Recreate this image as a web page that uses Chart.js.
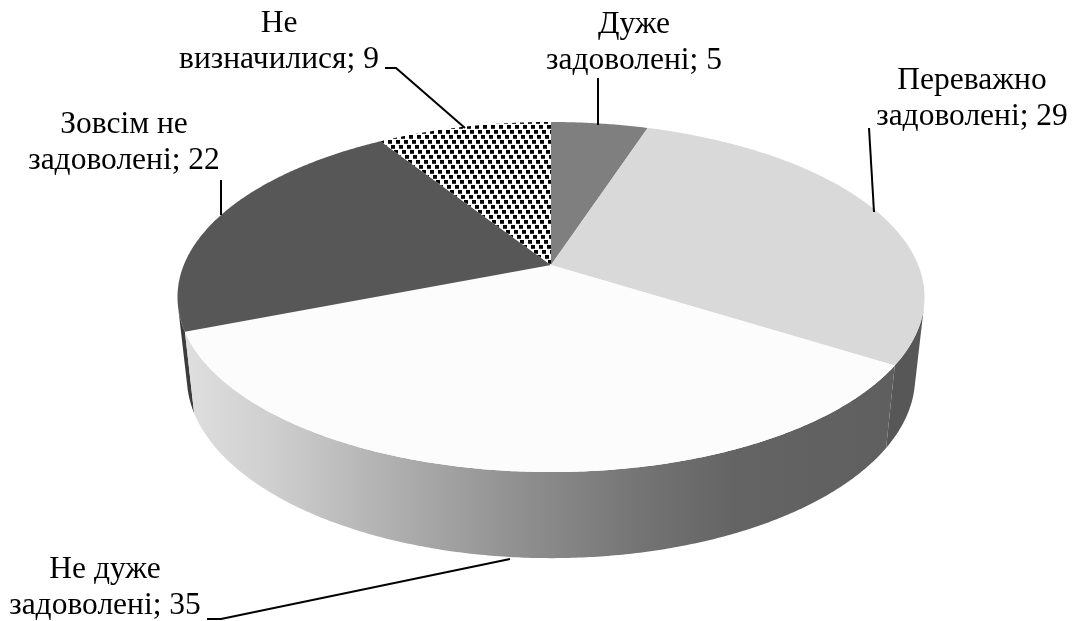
<!DOCTYPE html>
<html>
<head>
<meta charset="utf-8">
<title>Задоволеність</title>
<script src="https://cdn.jsdelivr.net/npm/chart.js@4/dist/chart.umd.min.js"></script>
<style>
  html, body { margin: 0; padding: 0; background: #fff; }
  #box { position: relative; width: 1073px; height: 621px; }
</style>
</head>
<body>
<div id="box"><canvas id="pieChart"></canvas></div>
<script>
'use strict';

// Chart data
const categories = [
    ['Дуже', 'задоволені'],
    ['Переважно', 'задоволені'],
    ['Не дуже', 'задоволені'],
    ['Зовсім не', 'задоволені'],
    ['Не', 'визначилися']
];
const satisfaction = [5, 29, 35, 22, 9];

// Label placement: centre x, first baseline y, leader polyline
const labelLayout = [
    { x: 634, y: 33, leader: [[598, 78], [598, 125]] },
    { x: 972, y: 89, leader: [[869, 128], [874, 212]] },
    { x: 105, y: 578, leader: [[207, 619], [221, 619], [510, 559]] },
    { x: 124, y: 133, leader: [[221, 180], [221, 215]] },
    { x: 279, y: 32, leader: [[385, 68], [396, 68], [465, 128]] }
];
const LINE_HEIGHT = 36;

// Projection of the disc: y is depth in the plane, k is the perspective
const K = -0.183;
const topFace = { a: 367.2, b: 120.7, c: 265 };
const bottomFace = { a: 358, b: 112, c: 344 };
const CENTER_X = 551;

function project(face, theta, r) {
    const x = r * Math.sin(theta);
    const y = -r * Math.cos(theta);
    const d = 1 + K * y;
    return [CENTER_X + face.a * x / d, (face.b * y + face.c) / d];
}

function tracePoints(ctx, pts) {
    pts.forEach(function(p, i) {
        if (i === 0) ctx.moveTo(p[0], p[1]);
        else ctx.lineTo(p[0], p[1]);
    });
    ctx.closePath();
}

function arcAngles(from, to) {
    const steps = Math.max(8, Math.ceil(Math.abs(to - from) * 120));
    const angles = [];
    for (let i = 0; i <= steps; i++) {
        angles.push(from + (to - from) * i / steps);
    }
    return angles;
}

// Negative area means the wall strip faces the viewer
function signedArea(pts) {
    let sum = 0;
    pts.forEach(function(p, i) {
        const q = pts[(i + 1) % pts.length];
        sum += p[0] * q[1] - q[0] * p[1];
    });
    return sum / 2;
}

// Slanted rows of small square dots
function makeDotPattern() {
    const tile = document.createElement('canvas');
    tile.width = 8;
    tile.height = 40;
    const t = tile.getContext('2d');
    t.fillStyle = '#fff';
    t.fillRect(0, 0, 8, 40);
    t.fillStyle = '#000';
    for (let row = 0; row < 8; row++) {
        const x = (row * 3) % 8;
        t.fillRect(x, row * 5, 4, 3.8);
        t.fillRect(x - 8, row * 5, 4, 3.8);
    }
    return t.createPattern(tile, 'repeat');
}

// Draws the pie as a tilted disc from the arc elements the controller laid out
const discPlugin = {
    id: 'disc',
    beforeDatasetDraw: function(chart) {
        const ctx = chart.ctx;
        const arcs = chart.getDatasetMeta(0).data;
        const slices = arcs.map(function(arc) {
            const props = arc.getProps(['startAngle', 'endAngle']);
            return {
                from: props.startAngle + Math.PI / 2,
                to: props.endAngle + Math.PI / 2,
                fill: arc.options.backgroundColor
            };
        });

        // Side wall, back slices first so the front one covers the crease
        const wallGradient = ctx.createLinearGradient(190, 0, 890, 0);
        wallGradient.addColorStop(0, '#dedede');
        wallGradient.addColorStop(0.117, '#cfcfcf');
        wallGradient.addColorStop(0.314, '#ababab');
        wallGradient.addColorStop(0.457, '#929292');
        wallGradient.addColorStop(0.643, '#747474');
        wallGradient.addColorStop(0.776, '#646464');
        wallGradient.addColorStop(1, '#5f5f5f');
        const wallFills = ['#5a5a5a', '#575757', wallGradient, '#3c3c3c', '#000'];
        [4, 0, 3, 1, 2].forEach(function(i) {
            const angles = arcAngles(slices[i].from, slices[i].to);
            ctx.beginPath();
            for (let n = 0; n < angles.length - 1; n++) {
                const strip = [
                    project(topFace, angles[n], 1),
                    project(topFace, angles[n + 1], 1),
                    project(bottomFace, angles[n + 1], 1),
                    project(bottomFace, angles[n], 1)
                ];
                if (signedArea(strip) < 0) tracePoints(ctx, strip);
            }
            ctx.fillStyle = wallFills[i];
            ctx.fill();
        });

        // Top face
        slices.forEach(function(s) {
            const rim = arcAngles(s.from, s.to).map(function(a) {
                return project(topFace, a, 1);
            });
            ctx.beginPath();
            tracePoints(ctx, [project(topFace, 0, 0)].concat(rim));
            ctx.fillStyle = s.fill;
            ctx.fill();
        });

        return false;
    },
    afterDatasetsDraw: function(chart) {
        const ctx = chart.ctx;
        ctx.save();

        // Leader lines
        ctx.strokeStyle = '#000';
        ctx.lineWidth = 2;
        labelLayout.forEach(function(l) {
            ctx.beginPath();
            l.leader.forEach(function(p, i) {
                if (i === 0) ctx.moveTo(p[0], p[1]);
                else ctx.lineTo(p[0], p[1]);
            });
            ctx.stroke();
        });

        // Labels
        ctx.fillStyle = '#000';
        ctx.font = '31.5px "Liberation Serif", serif';
        ctx.textAlign = 'center';
        ctx.textBaseline = 'alphabetic';
        categories.forEach(function(lines, i) {
            const l = labelLayout[i];
            ctx.fillText(lines[0], l.x, l.y);
            ctx.fillText(lines[1] + '; ' + satisfaction[i], l.x, l.y + LINE_HEIGHT);
        });
        ctx.restore();
    }
};

document.addEventListener('DOMContentLoaded', function() {
    const canvas = document.getElementById('pieChart');
    canvas.width = 1073;
    canvas.height = 621;
    new Chart(canvas.getContext('2d'), {
        type: 'pie',
        data: {
            labels: categories.map(function(c) { return c.join(' '); }),
            datasets: [{
                data: satisfaction,
                backgroundColor: ['#7f7f7f', '#d9d9d9', '#fcfcfc', '#575757', makeDotPattern()],
                borderWidth: 0
            }]
        },
        options: {
            responsive: false,
            animation: false,
            plugins: {
                legend: { display: false },
                tooltip: { enabled: false }
            }
        },
        plugins: [discPlugin]
    });
});
</script>
</body>
</html>
